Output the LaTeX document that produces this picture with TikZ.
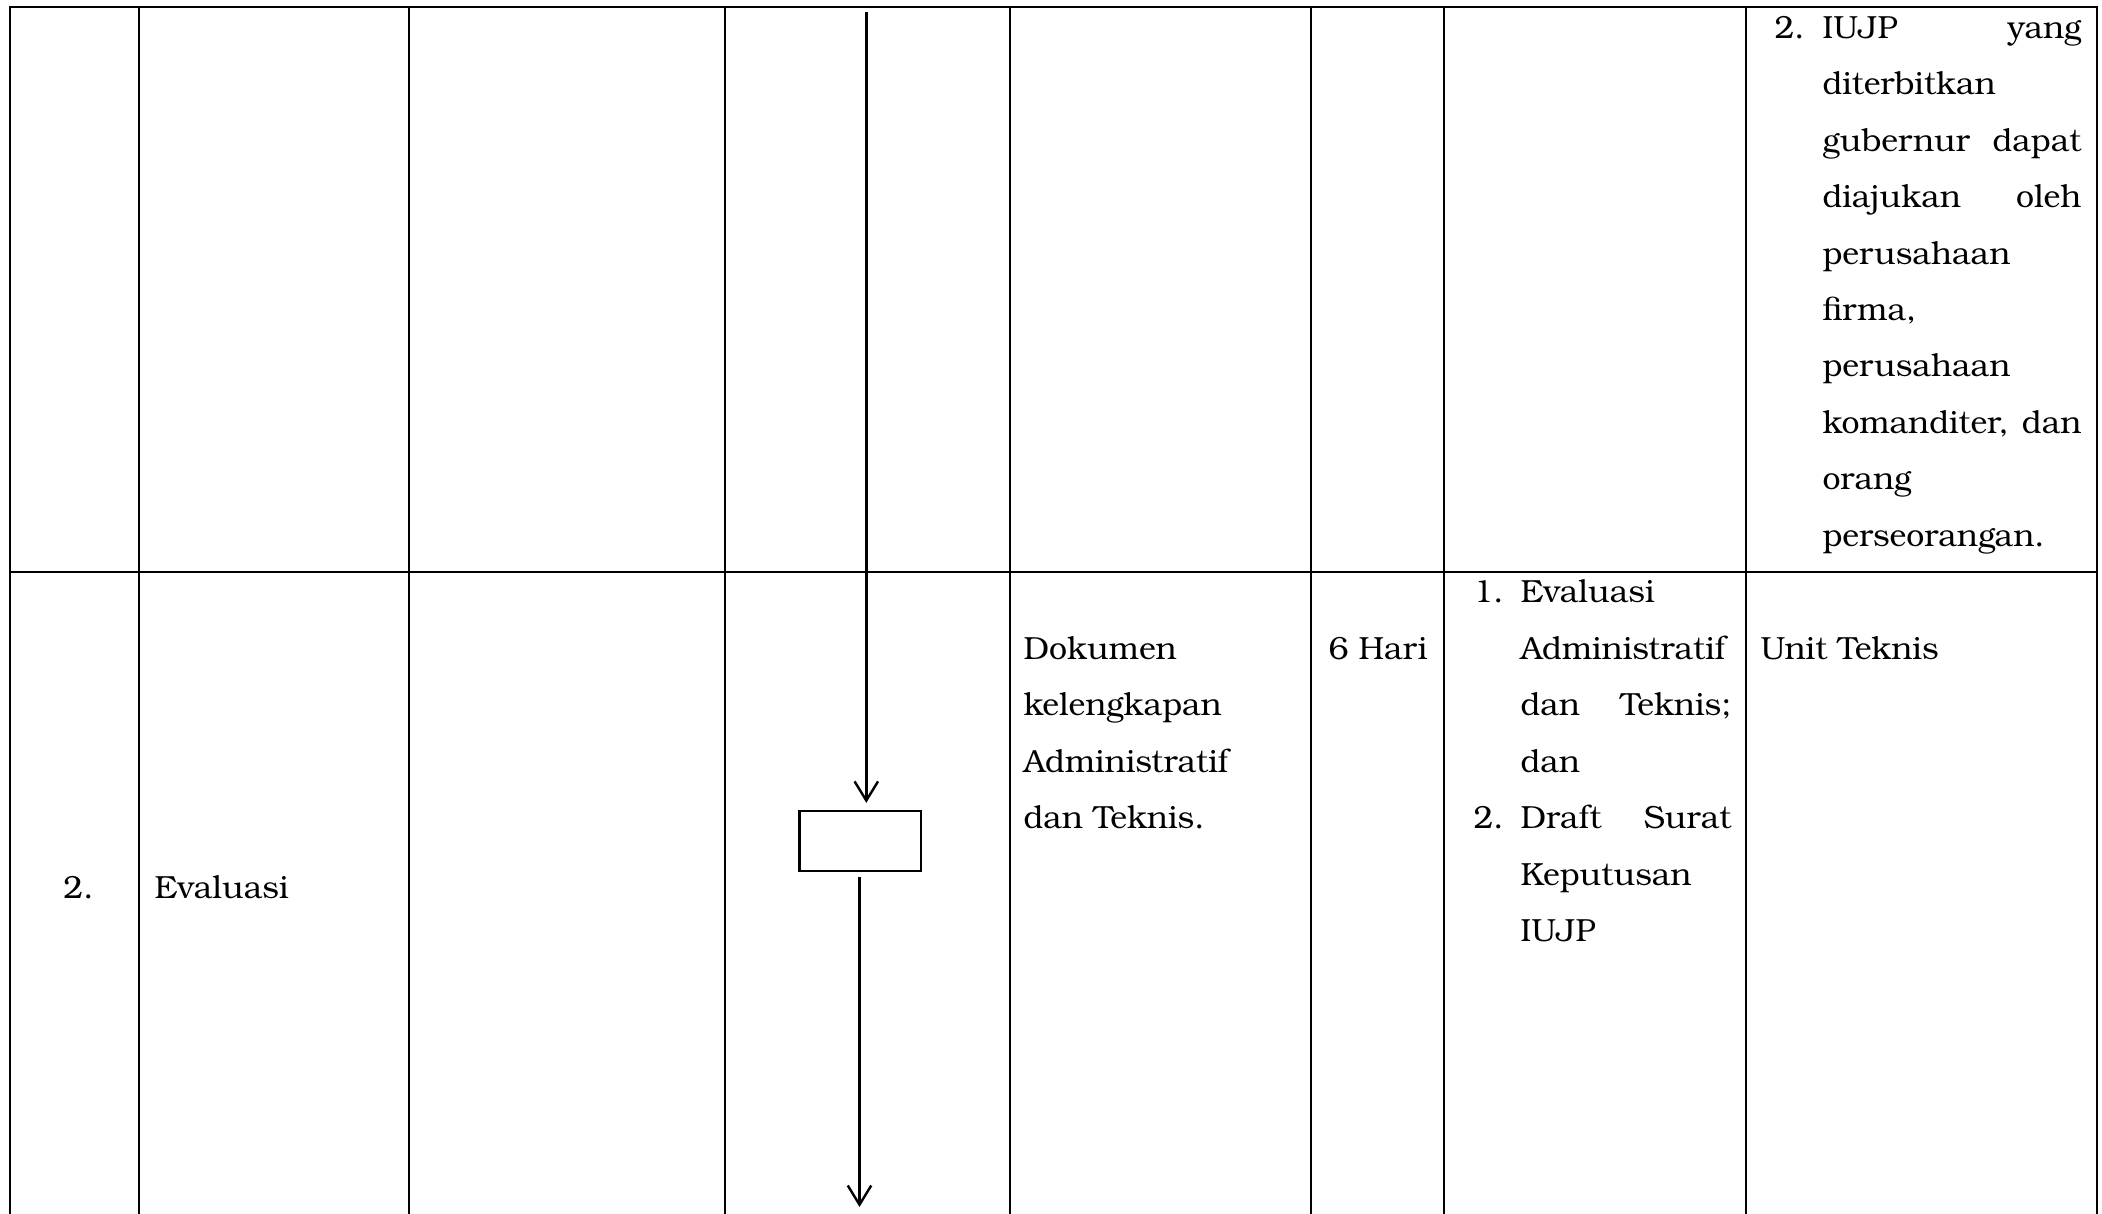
\documentclass[tikz,border=0pt]{standalone}
\usepackage{fontspec}
\setmainfont{TeX Gyre Bonum}
\usetikzlibrary{arrows.meta,calc}
\tikzset{
  tbl/.style={line width=1pt, line cap=rect},
  txt/.style={inner sep=0pt, anchor=base west, font=\fontsize{12pt}{14pt}\selectfont},
  txtr/.style={txt, anchor=base east},
  txtc/.style={txt, anchor=base},
  flow/.style={line width=0.9pt, -{Straight Barb[length=7.2pt,width=8.8pt]}},
  procbox/.style={draw, line width=0.9pt, minimum width=45.4pt, minimum height=22.5pt, inner sep=0pt}
}
\begin{document}
\begin{tikzpicture}[x=0.375pt,y=-0.375pt]
\useasboundingbox (0,0) rectangle (2102,1214);
% table grid
\draw[tbl] (10,1214) -- (10,7) -- (2097,7) -- (2097,1214);
\foreach \c in {139,409,725,1010,1311,1444,1746} \draw[tbl] (\c,7) -- (\c,1214);
\draw[tbl] (10,572) -- (2097,572);

% top-right cell
\node[txt] (n2a) at (1774,38.5) {2.};
\node[txt] (t1a) at (1822,38.5) {IUJP};
\node[txtr] (t1b) at (2082,38.5) {yang};
\node[txt] (t2) at (1822,94.9) {diterbitkan};
\node[txt] (t3a) at (1822,151.3) {gubernur};
\node[txtr] (t3b) at (2082,151.3) {dapat};
\node[txt] (t4a) at (1822,207.7) {diajukan};
\node[txtr] (t4b) at (2082,207.7) {oleh};
\node[txt] (t5) at (1822,264.1) {perusahaan};
\node[txt] (t6) at (1822,320.5) {firma,};
\node[txt] (t7) at (1822,376.9) {perusahaan};
\node[txt] (t8a) at (1822,433.3) {komanditer,};
\node[txtr] (t8b) at (2082,433.3) {dan};
\node[txt] (t9) at (1822,489.7) {orang};
\node[txt] (t10) at (1822,546.1) {perseorangan.};

% second row
\node[txtc] (no2) at (78.5,898) {2.};
\node[txt] (keg) at (154,898) {Evaluasi};

\node[txt] (d1) at (1023,659) {Dokumen};
\node[txt] (d2) at (1023,715.5) {kelengkapan};
\node[txt] (d3) at (1023,772) {Administratif};
\node[txt] (d4) at (1023,828.5) {dan Teknis.};

\node[txt] (wk) at (1328,659) {6 Hari};

\node[txt] (m1) at (1473,602) {1.};
\node[txt] (e1) at (1520,602) {Evaluasi};
\node[txt] (e2) at (1520,659) {Administratif};
\node[txt] (e3a) at (1520,715.5) {dan};
\node[txtr] (e3b) at (1732,715.5) {Teknis;};
\node[txt] (e4) at (1520,772) {dan};
\node[txt] (m2) at (1473,828.5) {2.};
\node[txt] (e5a) at (1520,828.5) {Draft};
\node[txtr] (e5b) at (1732,828.5) {Surat};
\node[txt] (e6) at (1520,885) {Keputusan};
\node[txt] (e7) at (1520,941.5) {IUJP};

\node[txt] (unit) at (1760,659) {Unit Teknis};

% flow
\node[procbox] (box) at (860.2,841) {};
\coordinate (f1s) at (866.3,12);
\coordinate (f2e) at (859.5,1207);
\draw[flow, shorten >=2.6pt] (f1s) -- (f1s |- box.north);
\draw[flow, shorten <=1.9pt] (box.south -| f2e) -- (f2e);
\end{tikzpicture}
\end{document}
